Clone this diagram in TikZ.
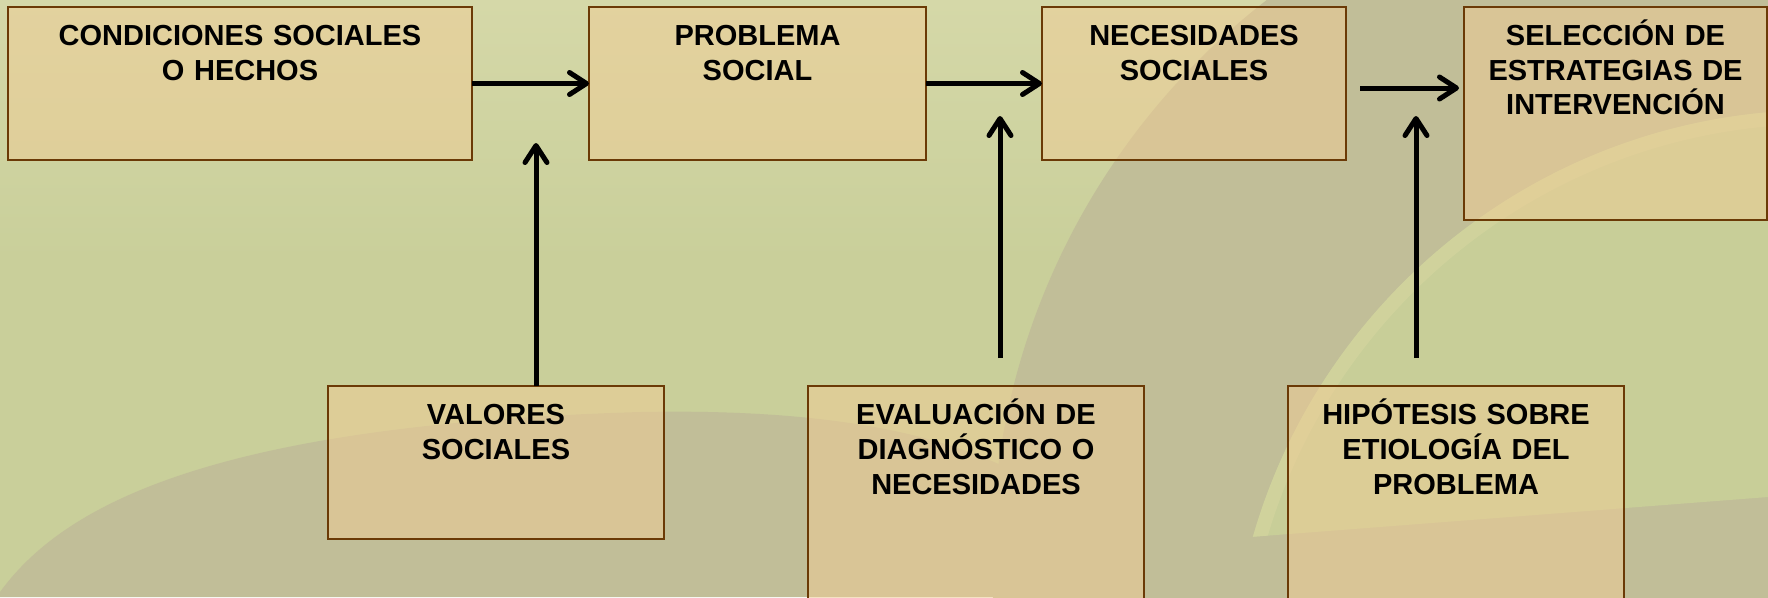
\documentclass[tikz,border=0pt]{standalone}
\usepackage{fontspec}
\setmainfont{Liberation Sans}
\usetikzlibrary{arrows.meta}
\definecolor{bggreen}{RGB}{201,207,154}
\definecolor{bglight}{RGB}{213,216,168}
\definecolor{bggray}{RGB}{193,190,152}
\definecolor{swoosh}{RGB}{200,206,152}
\definecolor{swooshedge}{RGB}{214,214,160}
\definecolor{boxfill}{RGB}{241,205,150}
\definecolor{boxborder}{RGB}{107,58,6}
\begin{document}
\begin{tikzpicture}[x=1pt,y=-1pt,
  box/.style={rectangle, draw=boxborder, line width=2.5pt, fill=boxfill, fill opacity=0.5, draw opacity=1,
              inner sep=0pt, outer sep=0pt, anchor=north west},
  lbl/.style={font=\fontsize{29}{35}\selectfont\bfseries, text width=#1, align=center,
              anchor=base, inner sep=0pt, text=black},
  arr/.style={draw=black, line width=5pt, -{Straight Barb[length=17pt,width=22pt,round]}}]
\useasboundingbox (0,0) rectangle (1768,597);
\clip (0,0) rectangle (1768,597);
% background
\fill[bggreen] (0,0) rectangle (1768,597);
\shade[top color=bglight, bottom color=bggreen] (0,0) rectangle (1768,260);
\fill[bggray] (0,597) -- (0,592) .. controls (60,510) and (200,425) .. (640,412)
   .. controls (850,408) and (960,440) .. (1030,480) -- (1030,597) -- cycle;
\fill[bggray] (1700,560) circle[radius=708];
\begin{scope}
  \clip (1250,537) -- (1768,497) -- (1768,0) -- (1250,0) -- cycle;
  \fill[swoosh] (1820,700) circle[radius=590];
  \draw[swooshedge, line width=14pt, opacity=0.6] (1820,700) circle[radius=583];
\end{scope}
% boxes
\node[box, minimum width=464pt, minimum height=153pt] (b1) at (8,7) {};
\node[box, minimum width=337pt, minimum height=153pt] (b2) at (589,7) {};
\node[box, minimum width=304pt, minimum height=153pt] (b3) at (1042,7) {};
\node[box, minimum width=303pt, minimum height=213pt] (b4) at (1464,7) {};
\node[box, minimum width=336pt, minimum height=153pt] (b5) at (328,386) {};
\node[box, minimum width=336pt, minimum height=230pt] (b6) at (808,386) {};
\node[box, minimum width=336pt, minimum height=230pt] (b7) at (1288,386) {};
% labels
\node[lbl=454pt] (t1) at ([yshift=-38pt]b1.north) {CONDICIONES SOCIALES\\O HECHOS};
\node[lbl=327pt] (t2) at ([yshift=-38pt]b2.north) {PROBLEMA\\SOCIAL};
\node[lbl=294pt] (t3) at ([yshift=-38pt]b3.north) {NECESIDADES\\SOCIALES};
\node[lbl=295pt] (t4) at ([yshift=-38pt]b4.north) {SELECCIÓN DE\\ESTRATEGIAS DE\\INTERVENCIÓN};
\node[lbl=326pt] (t5) at ([yshift=-38pt]b5.north) {VALORES\\SOCIALES};
\node[lbl=326pt] (t6) at ([yshift=-38pt]b6.north) {EVALUACIÓN DE\\DIAGNÓSTICO O\\NECESIDADES};
\node[lbl=326pt] (t7) at ([yshift=-38pt]b7.north) {HIPÓTESIS SOBRE\\ETIOLOGÍA DEL\\PROBLEMA};
% free arrow ends
\coordinate (v1) at ([xshift=40pt,yshift=243pt]b5.north);
\coordinate (v2) at ([xshift=24pt,yshift=270pt]b6.north);
\coordinate (v3) at ([xshift=-40pt,yshift=270pt]b7.north);
% connectors
\draw[arr] (b1.east) -- (b2.west);
\draw[arr] (b2.east) -- (b3.west);
\draw[arr] ([xshift=14pt,yshift=-4.5pt]b3.east) -- ([xshift=-5pt,yshift=-4.5pt]b3.east -| b4.west);
\draw[arr] ([xshift=40pt]b5.north) -- (v1);
\draw[arr] ([xshift=24pt,yshift=28pt]b6.north) -- (v2);
\draw[arr] ([xshift=-40pt,yshift=28pt]b7.north) -- (v3);
\end{tikzpicture}
\end{document}
